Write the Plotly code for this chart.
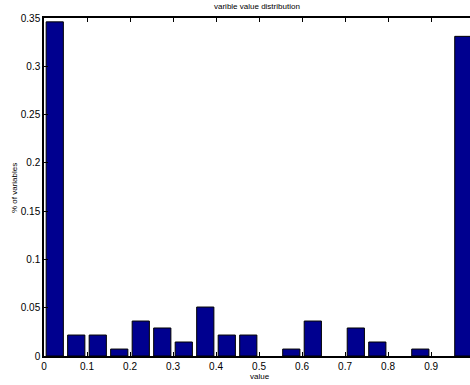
import plotly.graph_objects as go

bin_centers = [0.025, 0.075, 0.125, 0.175, 0.225, 0.275, 0.325, 0.375, 0.425, 0.475,
               0.525, 0.575, 0.625, 0.675, 0.725, 0.775, 0.825, 0.875, 0.925, 0.975]
fractions = [0.346, 0.0217, 0.0217, 0.0072, 0.0362, 0.029, 0.0145, 0.0507, 0.0217, 0.0217,
             0.0, 0.0072, 0.0362, 0.0, 0.029, 0.0145, 0.0, 0.0072, 0.0, 0.331]
x_ticks = [0, 0.1, 0.2, 0.3, 0.4, 0.5, 0.6, 0.7, 0.8, 0.9]
x_labels = ["0", "0.1", "0.2", "0.3", "0.4", "0.5", "0.6", "0.7", "0.8", "0.9"]
y_ticks = [0, 0.05, 0.1, 0.15, 0.2, 0.25, 0.3, 0.35]
y_labels = ["0", "0.05", "0.1", "0.15", "0.2", "0.25", "0.3", "0.35"]

W, H = 470, 385
L, R, T, B = 44, 0, 18, 29
pw, ph = W - L - R, H - T - B

def px_x(px):
    return (px - L) / pw

def px_y(py):
    return (H - B - py) / ph

outline_w = [1 if v > 0 else 0 for v in fractions]

fig = go.Figure()
fig.add_trace(go.Bar(
    x=bin_centers, y=fractions, width=0.04,
    marker=dict(color="#00008F", line=dict(color="black", width=outline_w)),
))

font = "Liberation Sans, Arial, Helvetica, sans-serif"
fig.update_layout(
    width=W, height=H,
    margin=dict(l=L, r=R, t=T, b=B, autoexpand=False),
    paper_bgcolor="white", plot_bgcolor="white",
    showlegend=False,
    font=dict(family=font, size=10, color="black"),
    xaxis=dict(range=[0, 0.9905], tickvals=x_ticks, ticktext=x_labels, automargin=False,
               showgrid=False, zeroline=False, showline=True, linecolor="black", linewidth=1.5,
               mirror="ticks", ticks="inside", ticklen=4, tickcolor="black"),
    yaxis=dict(range=[0, 0.35], tickvals=y_ticks, ticktext=y_labels, automargin=False,
               showgrid=False, zeroline=False, showline=True, linecolor="black", linewidth=1.5,
               ticks="inside", ticklen=4, tickcolor="black"),
    annotations=[
        dict(text="varible value distribution", xref="paper", yref="paper",
             x=px_x(257), y=px_y(7), xanchor="center", yanchor="middle",
             showarrow=False, font=dict(size=8)),
        dict(text="value", xref="paper", yref="paper",
             x=px_x(260), y=px_y(376), xanchor="center", yanchor="middle",
             showarrow=False, font=dict(size=8)),
        dict(text="% of variables", xref="paper", yref="paper",
             x=px_x(14), y=px_y(188), xanchor="center", yanchor="middle",
             showarrow=False, font=dict(size=8), textangle=-90),
    ],
)
fig.write_html("out.html", config={"displayModeBar": False},
               post_script="document.body.style.margin='0';document.body.style.overflow='hidden';")
